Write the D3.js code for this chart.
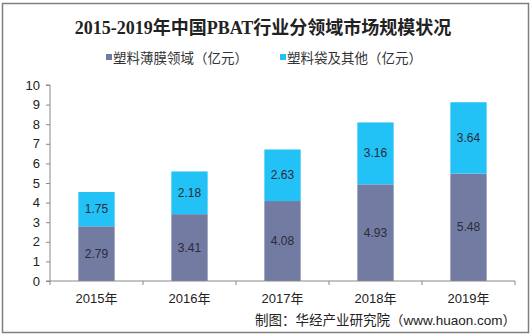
<!DOCTYPE html>
<html>
<head>
<meta charset="utf-8">
<script src="https://cdn.jsdelivr.net/npm/d3@7"></script>
<style>
  body { margin: 0; background: #fff; }
  svg { display: block; }
</style>
</head>
<body>
<div id="wrapper"></div>
<script>
const years = ["2015年", "2016年", "2017年", "2018年", "2019年"];
const film = [2.79, 3.41, 4.08, 4.93, 5.48];
const bags = [1.75, 2.18, 2.63, 3.16, 3.64];
const yTicks = [0, 1, 2, 3, 4, 5, 6, 7, 8, 9, 10];
const seriesNames = ["塑料薄膜领域（亿元）", "塑料袋及其他（亿元）"];
const colors = ["#727ba1", "#22c1f6"];

const width = 530, height = 336;
const margin = { top: 85, right: 15, bottom: 55, left: 50 };
const boundedWidth = width - margin.left - margin.right;
const boundedHeight = height - margin.top - margin.bottom;

const svg = d3.select("#wrapper").append("svg")
    .attr("width", width)
    .attr("height", height);

svg.append("rect")
    .attr("x", 2.5).attr("y", 3.5)
    .attr("width", 526).attr("height", 329)
    .attr("fill", "#fff")
    .attr("stroke", "#7f7f7f")
    .attr("stroke-width", 1.5);

// title
svg.append("text")
    .attr("x", 263).attr("y", 34)
    .attr("text-anchor", "middle")
    .style("font-family", "'Liberation Serif', 'Noto Sans CJK SC'")
    .style("font-weight", "bold")
    .style("font-size", "18px")
    .attr("fill", "#222")
    .text("2015-2019年中国PBAT行业分领域市场规模状况");

// legend
const legendX = [106, 280];
const legend = svg.append("g").selectAll("g")
    .data(seriesNames)
    .join("g")
    .attr("transform", (d, i) => `translate(${legendX[i]},58)`);
legend.append("rect")
    .attr("x", 0).attr("y", -4)
    .attr("width", 6).attr("height", 6)
    .attr("fill", (d, i) => colors[i]);
legend.append("text")
    .attr("x", 7).attr("y", 4.5)
    .style("font-family", "'Noto Sans CJK SC'")
    .style("font-size", "13.5px")
    .attr("fill", "#333")
    .text(d => d);

const bounds = svg.append("g")
    .attr("transform", `translate(${margin.left},${margin.top})`);

const xScale = d3.scaleBand()
    .domain(years)
    .range([0, boundedWidth])
    .paddingInner(0.61)
    .paddingOuter(0.305);

const yScale = d3.scaleLinear()
    .domain([0, 10])
    .range([boundedHeight, 0]);

const data = years.map((y, i) => ({ year: y, film: film[i], bags: bags[i] }));
const stacked = d3.stack().keys(["film", "bags"])(data);

const layers = bounds.selectAll("g.layer")
    .data(stacked)
    .join("g")
    .attr("class", "layer")
    .attr("fill", (d, i) => colors[i]);

layers.selectAll("rect")
    .data(d => d)
    .join("rect")
    .attr("x", d => xScale(d.data.year))
    .attr("width", xScale.bandwidth())
    .attr("y", d => yScale(d[1]))
    .attr("height", d => yScale(d[0]) - yScale(d[1]));

layers.selectAll("text")
    .data((d, i) => d.map(v => ({ v, key: d.key })))
    .join("text")
    .attr("x", d => xScale(d.v.data.year) + xScale.bandwidth() / 2)
    .attr("y", d => yScale((d.v[0] + d.v[1]) / 2) + 4)
    .attr("text-anchor", "middle")
    .style("font-family", "'Liberation Sans', Arial")
    .style("font-size", "12px")
    .attr("fill", "#2b2b3a")
    .text(d => d.v.data[d.key].toFixed(2));

// y axis
const yAxis = bounds.append("g")
    .call(d3.axisLeft(yScale).tickValues(yTicks).tickSize(4).tickPadding(6));
yAxis.select(".domain").attr("stroke", "#888").attr("d", `M-4,${boundedHeight}H0V0H-4`);
yAxis.selectAll(".tick line").attr("stroke", "#888");
yAxis.selectAll(".tick text")
    .style("font-family", "'Liberation Sans', Arial")
    .style("font-size", "13px")
    .attr("fill", "#222");

// x axis
const boundaries = d3.range(years.length + 1).map(i => i * boundedWidth / years.length);
const xAxis = bounds.append("g")
    .attr("transform", `translate(0,${boundedHeight})`);
xAxis.append("line")
    .attr("x1", 0).attr("x2", boundedWidth)
    .attr("stroke", "#888");
xAxis.selectAll("line.tk")
    .data(boundaries)
    .join("line")
    .attr("class", "tk")
    .attr("x1", d => d).attr("x2", d => d)
    .attr("y1", 0).attr("y2", 4)
    .attr("stroke", "#888");
xAxis.selectAll("text")
    .data(years)
    .join("text")
    .attr("x", d => xScale(d) + xScale.bandwidth() / 2)
    .attr("y", 22)
    .attr("text-anchor", "middle")
    .style("font-family", "'Liberation Sans', 'Noto Sans CJK SC'")
    .style("font-size", "13px")
    .attr("fill", "#222")
    .text(d => d);

// source
svg.append("text")
    .attr("x", 516).attr("y", 325)
    .attr("text-anchor", "end")
    .style("font-family", "'Liberation Sans', 'Noto Sans CJK SC'")
    .style("font-size", "13.5px")
    .attr("fill", "#222")
    .text("制图：华经产业研究院（www.huaon.com）");
</script>
</body>
</html>
